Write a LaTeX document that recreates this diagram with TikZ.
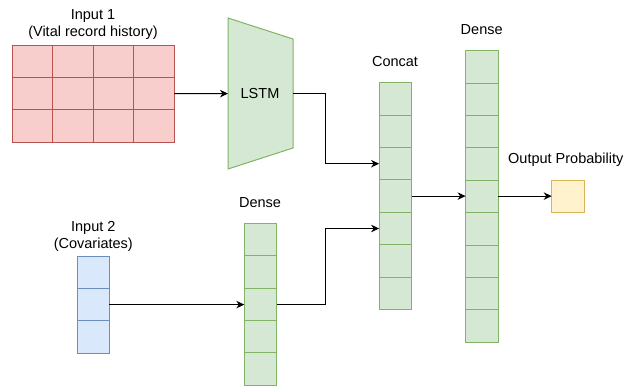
\documentclass[tikz,border=0pt]{standalone}
\usepackage{fontspec}
\setmainfont{Liberation Sans}
\usetikzlibrary{arrows.meta}
\definecolor{redF}{HTML}{F8CECC}
\definecolor{redD}{HTML}{B85450}
\definecolor{grnF}{HTML}{D5E8D4}
\definecolor{grnD}{HTML}{82B366}
\definecolor{bluF}{HTML}{DAE8FC}
\definecolor{bluD}{HTML}{6C8EBF}
\definecolor{ylwF}{HTML}{FFF2CC}
\definecolor{ylwD}{HTML}{D6B656}
\begin{document}
\begin{tikzpicture}[x=1pt,y=-1pt,
  cellbase/.style={draw, line width=1pt, inner sep=0pt, outer sep=0pt},
  redcell/.style={cellbase, fill=redF, draw=redD, minimum width=40.5pt, minimum height=32.4pt},
  grncell/.style={cellbase, fill=grnF, draw=grnD, minimum width=32.4pt, minimum height=32.4pt},
  blucell/.style={cellbase, fill=bluF, draw=bluD, minimum width=32.4pt, minimum height=32.4pt},
  ylwcell/.style={cellbase, fill=ylwF, draw=ylwD, minimum width=32.6pt, minimum height=32.6pt},
  lbl/.style={inner sep=0pt, align=center, font=\fontsize{14.5pt}{17pt}\selectfont},
  conn/.style={line width=1pt, -{Stealth[length=8pt,width=7.5pt,inset=2.5pt]}}
]
\useasboundingbox (0,0) rectangle (627,386);

% Input 1 grid
\foreach \r in {1,2,3}
  \foreach \c in {1,...,4}
    \node[redcell] (in1-\r-\c) at ({12.3+40.5*(\c-0.5)}, {45+32.4*(\r-0.5)}) {};
\node[lbl] (in1lbl) at (93,25) {Input 1\\(Vital record history)};

% LSTM
\draw[line width=1pt, draw=grnD, fill=grnF] (228,18) -- (293,39) -- (293,148) -- (228,169) -- cycle;
\coordinate (lstmW) at (228,93.6);
\coordinate (lstmE) at (293,93.6);
\node[lbl] (lstm) at (260,93.6) {LSTM};

% Input 2
\foreach \r in {1,2,3}
  \node[blucell] (in2-\r) at (93.2, {256+32.4*(\r-0.5)}) {};
\node[lbl] (in2lbl) at (93.3,236) {Input 2\\(Covariates)};

% Dense 1
\foreach \r in {1,...,5}
  \node[grncell] (d1-\r) at (260.5, {223.3+32.4*(\r-0.5)}) {};
\node[lbl] (d1lbl) at (260,202.7) {Dense};

% Concat
\foreach \r in {1,...,7}
  \node[grncell] (c-\r) at (395.3, {82.7+32.4*(\r-0.5)}) {};
\node[lbl] (clbl) at (395,62) {Concat};

% Dense 2
\foreach \r in {1,...,9}
  \node[grncell] (d2-\r) at (481.8, {50.7+32.4*(\r-0.5)}) {};
\node[lbl] (d2lbl) at (481.7,30) {Dense};

% Output
\node[ylwcell] (out) at (568,196.3) {};
\node[lbl, anchor=west] (outlbl) at (508,160) {Output Probability};

% Connectors
\draw[conn] (in1-2-4.east) -- (lstmW);
\draw[conn] (lstmE) -- ++(32,0) |- (c-3.west);
\draw[conn] (in2-2.east) -- (in2-2.east -| d1-3.west);
\draw[conn] (d1-3.east) -- ++(48.3,0) |- (c-5.west);
\draw[conn] (c-4.east) -- (c-4.east -| d2-5.west);
\draw[conn] (c-4.east -| d2-5.east) -- (c-4.east -| out.west);
\end{tikzpicture}
\end{document}
